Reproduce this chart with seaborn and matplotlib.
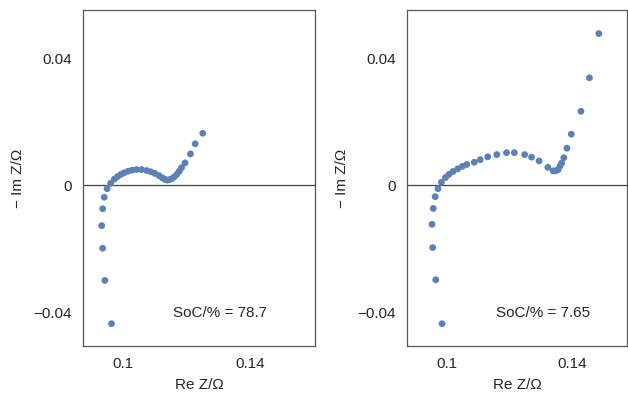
import matplotlib
matplotlib.use("Agg")
import matplotlib.pyplot as plt
import seaborn as sns
import pandas as pd

# Nyquist data, SoC 78.7 %
re_a = [0.0963, 0.0942, 0.0935, 0.0932, 0.0935, 0.0940, 0.0949, 0.0960, 0.0972, 0.0982,
        0.0993, 0.1003, 0.1016, 0.1028, 0.1042, 0.1058, 0.1074, 0.1087, 0.1100, 0.1113,
        0.1123, 0.1132, 0.1139, 0.1145, 0.1153, 0.1161, 0.1169, 0.1177, 0.1184, 0.1195,
        0.1212, 0.1227, 0.1251]
im_a = [-0.0434, -0.0298, -0.0197, -0.0126, -0.0073, -0.0037, -0.0010, 0.0007, 0.0020, 0.0028,
        0.0035, 0.0040, 0.0045, 0.0048, 0.0050, 0.0050, 0.0047, 0.0043, 0.0038, 0.0031,
        0.0024, 0.0019, 0.0017, 0.0018, 0.0021, 0.0027, 0.0035, 0.0045, 0.0056, 0.0071,
        0.0099, 0.0131, 0.0164]

# Nyquist data, SoC 7.65 %
re_b = [0.0984, 0.0964, 0.0954, 0.0952, 0.0956, 0.0962, 0.0971, 0.0982, 0.0995, 0.1006,
        0.1019, 0.1034, 0.1049, 0.1063, 0.1087, 0.1106, 0.1130, 0.1159, 0.1190, 0.1215,
        0.1248, 0.1270, 0.1294, 0.1322, 0.1339, 0.1347, 0.1355, 0.1361, 0.1366, 0.1373,
        0.1383, 0.1397, 0.1428, 0.1455, 0.1485]
im_b = [-0.0434, -0.0296, -0.0195, -0.0122, -0.0072, -0.0035, -0.0010, 0.0010, 0.0025, 0.0035,
        0.0044, 0.0052, 0.0060, 0.0066, 0.0073, 0.0081, 0.0090, 0.0097, 0.0103, 0.0103,
        0.0097, 0.0089, 0.0077, 0.0057, 0.0046, 0.0046, 0.0050, 0.0061, 0.0070, 0.0087,
        0.0117, 0.0161, 0.0233, 0.0338, 0.0477]

labels = ["SoC/% = 78.7", "SoC/% = 7.65"]
xticks = [0.1, 0.14]
yticks = [-0.04, 0, 0.04]
yticklabels = ["\u22120.04", "0", "0.04"]

sns.set_style("white")
plt.rcParams['font.family'] = ['Liberation Sans', 'DejaVu Sans']

fig = plt.figure(figsize=(6.28, 3.94), dpi=100)
W, H = 628, 394
ax1 = fig.add_axes([83 / W, 48 / H, 232 / W, 336 / H])
ax2 = fig.add_axes([407 / W, 48 / H, 220 / W, 336 / H])

color = "#5E81B5"
frame = "#555555"
txt = "#262626"

panels = [(ax1, re_a, im_a, labels[0], (0.0873, 0.1605)),
          (ax2, re_b, im_b, labels[1], (0.0872, 0.1575))]

for ax, xs, ys, lab, xlim in panels:
    df = pd.DataFrame({"re": xs, "im": ys})
    ax.axhline(0, color="#444444", lw=0.9, zorder=1)
    sns.scatterplot(data=df, x="re", y="im", ax=ax, color=color, s=24,
                    edgecolor="none", zorder=3)
    ax.set_xlim(*xlim)
    ax.set_ylim(-0.0504, 0.0551)
    ax.set_xticks(xticks)
    ax.set_xticklabels(["0.1", "0.14"])
    ax.set_yticks(yticks)
    ax.set_yticklabels(yticklabels)
    ax.tick_params(axis="x", direction="in", length=4, width=0.8, color=frame,
                   labelsize=11, pad=8, labelcolor=txt)
    ax.tick_params(axis="y", direction="inout", length=4, width=0.8, color=frame,
                   labelsize=11, pad=6, labelcolor=txt)
    for sp in ax.spines.values():
        sp.set_color(frame)
        sp.set_linewidth(0.9)
    ax.set_xlabel("Re Z/\u03a9", fontsize=11, color=txt, labelpad=5)
    ax.set_ylabel("\u2212 Im Z/\u03a9", fontsize=11, color=txt, labelpad=6)
    ax.text(0.1306, -0.04, lab, fontsize=11, ha="center", va="center", color=txt)

fig.savefig("out.png", dpi=100)
